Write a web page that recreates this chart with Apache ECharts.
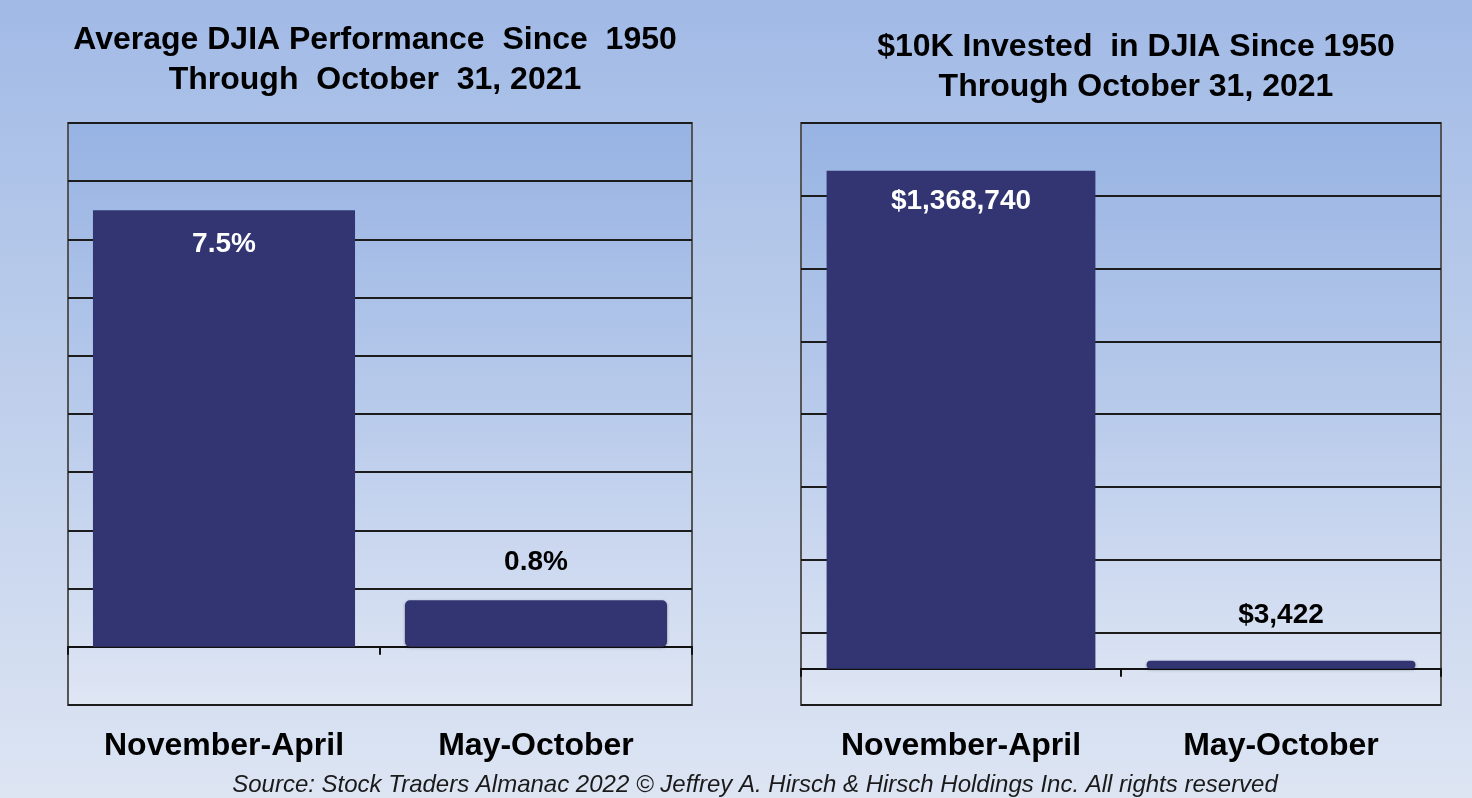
<!DOCTYPE html>
<html>
<head>
<meta charset="utf-8">
<title>DJIA Best Six Months</title>
<script src="https://cdn.jsdelivr.net/npm/echarts@6/dist/echarts.min.js"></script>
<style>
html, body {
  margin: 0;
  padding: 0;
}
body {
  background: linear-gradient(to bottom, #a1bae6 0%, #bccdeb 45%, #dde5f3 100%);
}
#chart {
  width: 1472px;
  height: 798px;
}
</style>
</head>
<body>
<div id="chart"></div>
<script>
var categories = ["November-April", "May-October"];
var avgPerformance = [7.5, 0.8];          // %
var invested = [1368740, 3422];           // $ from $10K
// value axis ranges (ticks are counted from min)
var perfMin = -1, perfMax = 9, perfStep = 1;
var investMin = -100000, investMax = 1500000, investStep = 200000;

var FONT = '"Liberation Sans", Arial, sans-serif';

var chart = echarts.init(document.getElementById("chart"));

// plot background: blue at the top fading to the pale floor
function plotBg() {
  return new echarts.graphic.LinearGradient(0, 0, 0, 1, [
    { offset: 0, color: "#97b3e3" },
    { offset: 0.5, color: "#b9cbeb" },
    { offset: 1, color: "#dfe6f4" }
  ]);
}

// first bar gets its label inside (white), second one above (black)
function buildBars(values, insideDist, topDist) {
  return values.map(function (v, i) {
    if (i === 0) {
      return {
        value: v,
        label: { position: "insideTop", distance: insideDist, color: "#ffffff" }
      };
    }
    return {
      value: v,
      itemStyle: { borderRadius: 5, shadowColor: "rgba(0,0,0,0.35)", shadowBlur: 3, shadowOffsetY: 1 },
      label: { position: "top", distance: topDist, color: "#000000" }
    };
  });
}

function valueAxis(gridIndex, min, max, step) {
  return {
    type: "value",
    gridIndex: gridIndex,
    min: min,
    max: max,
    interval: step,
    axisLine: { show: false },
    axisTick: { show: false },
    axisLabel: { show: false },
    splitLine: { lineStyle: { color: "#1c1c1c", width: 2 } }
  };
}

function zeroAxis(gridIndex) {
  return {
    type: "category",
    gridIndex: gridIndex,
    position: "top",
    data: categories,
    axisLine: { onZero: true, lineStyle: { color: "#111", width: 2 } },
    axisTick: { show: true, inside: true, length: 8, lineStyle: { color: "#111", width: 2 } },
    axisLabel: { show: false }
  };
}

function labelAxis(gridIndex) {
  return {
    type: "category",
    gridIndex: gridIndex,
    position: "bottom",
    data: categories,
    axisLine: { show: false },
    axisTick: { show: false },
    axisLabel: {
      interval: 0,
      hideOverlap: false,
      margin: 25,
      color: "#000",
      fontFamily: FONT,
      fontWeight: "bold",
      fontSize: 32
    }
  };
}

var titleStyle = {
  color: "#000",
  fontFamily: FONT,
  fontWeight: "bold",
  fontSize: 32,
  lineHeight: 40
};

chart.setOption({
  animation: false,
  backgroundColor: "transparent",
  title: [
    {
      text: "Average DJIA Performance  Since  1950\nThrough  October  31, 2021",
      left: 370,
      top: 15,
      textAlign: "center",
      textStyle: titleStyle
    },
    {
      text: "$10K Invested  in DJIA Since 1950\nThrough October 31, 2021",
      left: 1131,
      top: 22,
      textAlign: "center",
      textStyle: titleStyle
    },
    {
      text: "Source: Stock Traders Almanac 2022 \u00a9 Jeffrey A. Hirsch & Hirsch Holdings Inc. All rights reserved",
      left: 750,
      top: 768,
      textAlign: "center",
      textStyle: {
        color: "#1a1a1a",
        fontFamily: FONT,
        fontStyle: "italic",
        fontWeight: "normal",
        fontSize: 24
      }
    }
  ],
  grid: [
    {
      left: 68, right: 780, top: 123, bottom: 93,
      show: true,
      backgroundColor: plotBg(),
      borderColor: "#555",
      borderWidth: 2
    },
    {
      left: 801, right: 31, top: 123, bottom: 93,
      show: true,
      backgroundColor: plotBg(),
      borderColor: "#555",
      borderWidth: 2
    }
  ],
  xAxis: [zeroAxis(0), labelAxis(0), zeroAxis(1), labelAxis(1)],
  yAxis: [
    valueAxis(0, perfMin, perfMax, perfStep),
    valueAxis(1, investMin, investMax, investStep)
  ],
  series: [
    {
      name: "Average DJIA Performance",
      type: "bar",
      xAxisIndex: 0,
      yAxisIndex: 0,
      barWidth: "84%",
      itemStyle: { color: "#323571" },
      label: {
        show: true,
        fontFamily: FONT,
        fontWeight: "bold",
        fontSize: 28,
        formatter: function (p) { return p.value + "%"; }
      },
      data: buildBars(avgPerformance, 20, 24)
    },
    {
      name: "$10K Invested",
      type: "bar",
      xAxisIndex: 2,
      yAxisIndex: 1,
      barWidth: "84%",
      barMinHeight: 8,
      itemStyle: { color: "#323571" },
      label: {
        show: true,
        fontFamily: FONT,
        fontWeight: "bold",
        fontSize: 28,
        formatter: function (p) { return "$" + p.value.toLocaleString("en-US"); }
      },
      data: buildBars(invested, 17, 31)
    }
  ]
});
</script>
</body>
</html>
